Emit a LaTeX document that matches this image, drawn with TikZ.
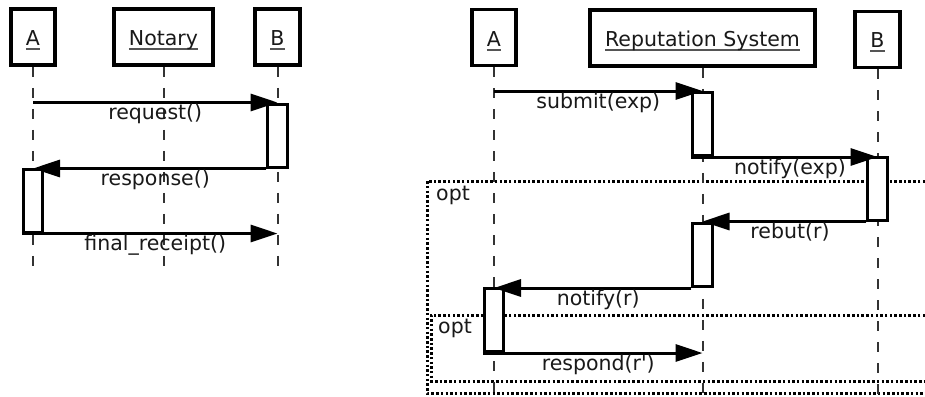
\documentclass[tikz,border=0pt]{standalone}
\usepackage{fontspec}
\setmainfont{DejaVu Sans}
\usetikzlibrary{arrows.meta,calc}
\definecolor{ulgray}{HTML}{555555}
\definecolor{lifegray}{HTML}{333333}
\newsavebox\ulsavebox
\newcommand\ultext[1]{\sbox\ulsavebox{#1}\rlap{\color{ulgray}\rule[-4.5pt]{\wd\ulsavebox}{2pt}}\usebox\ulsavebox}
\begin{document}
\begin{tikzpicture}[x=1pt,y=-1pt,
  every node/.style={font=\fontsize{20.5}{24}\selectfont, text=black!90},
  actor/.style={draw=black, line width=3.8pt, fill=white, inner sep=0pt, text height=17pt, text depth=0pt, minimum height=56pt},
  actbox/.style={draw=black, line width=3pt, fill=white, minimum width=19.5pt, minimum height=63pt, inner sep=0pt},
  lifeline/.style={draw=lifegray, line width=2pt, dash pattern=on 10pt off 11pt},
  msg/.style={draw=black, line width=3pt, -{Triangle[length=27pt,width=17pt]}},
  msglabel/.style={anchor=base, inner sep=0pt, yshift=-17pt},
  optframe/.style={draw=black, line width=3pt, dash pattern=on 2.5pt off 2.2pt},
  optlabel/.style={anchor=base west, inner sep=0pt}
]
\useasboundingbox[fill=white] (0,0) rectangle (925,396);
% actors
\node[actor, minimum width=44pt] (A1) at (33,37) {\ultext{A}};
\node[actor, minimum width=99pt] (N1) at (163.5,37) {\ultext{Notary}};
\node[actor, minimum width=45pt] (B1) at (277.5,37) {\ultext{B}};
\node[actor, minimum width=44pt] (A2) at (494,37.5) {\ultext{A}};
\node[actor, minimum width=225pt] (R2) at (702.5,38) {\ultext{Reputation System}};
\node[actor, minimum width=45pt] (B2) at (877.5,39.5) {\ultext{B}};
% end coordinates
\coordinate (endL) at (0,273);
\coordinate (endR) at (0,396);
% opt frames
\coordinate (o1a) at (925,181);
\coordinate (o1b) at (427,181);
\coordinate (o1c) at (427,393);
\coordinate (o1d) at (925,393);
\coordinate (o2a) at (925,315);
\coordinate (o2b) at (431,315);
\coordinate (o2c) at (431,381);
\coordinate (o2d) at (925,381);
\draw[optframe] (o1a) -- (o1b) -- (o1c) -- (o1d);
\draw[optframe] (o2a) -- (o2b) -- (o2c) -- (o2d);
\node[optlabel] (opt1) at (436,200) {opt};
\node[optlabel] (opt2) at (438,333) {opt};
% lifelines
\draw[lifeline] (A1.south) -- (A1.south |- endL);
\draw[lifeline] (N1.south) -- (N1.south |- endL);
\draw[lifeline] (B1.south) -- (B1.south |- endL);
\draw[lifeline] (A2.south) -- (A2.south |- endR);
\draw[lifeline] (R2.south) -- (R2.south |- endR);
\draw[lifeline] (B2.south) -- (B2.south |- endR);
% activations
\node[actbox] (aB1) at (B1.south |- 0,135.5) {};
\node[actbox] (aA1) at (A1.south |- 0,200.5) {};
\node[actbox] (aR1) at (R2.south |- 0,124) {};
\node[actbox] (aB2) at (B2.south |- 0,188.5) {};
\node[actbox] (aR2) at (R2.south |- 0,255) {};
\node[actbox] (aA2) at (A2.south |- 0,320) {};
% label anchors
\path (A1.south) -- (B1.south) coordinate[pos=.5] (mL);
\path (A2.south) -- (R2.south) coordinate[pos=.5] (mAR);
\path (R2.south) -- (B2.south) coordinate[pos=.5] (mRB);
% messages left
\draw[msg] (A1.south |- aB1.north) -- (aB1.north);
\node[msglabel] (l1) at (mL |- aB1.north) {request()};
\draw[msg] (aB1.south west) -- (aA1.north |- aB1.south west);
\node[msglabel] (l2) at (mL |- aB1.south) {response()};
\draw[msg] (aA1.south west) -- (B1.south |- aA1.south);
\node[msglabel] (l3) at (mL |- aA1.south) {final\_receipt()};
% messages right
\draw[msg] (A2.south |- aR1.north) -- (aR1.north);
\node[msglabel] (r1) at (mAR |- aR1.north) {submit(exp)};
\draw[msg] (aR1.south west) -- (aB2.north |- aR1.south);
\node[msglabel] (r2) at (mRB |- aR1.south) {notify(exp)};
\draw[msg] (aB2.south west) -- (aR2.north |- aB2.south);
\node[msglabel] (r3) at (mRB |- aB2.south) {rebut(r)};
\draw[msg] (aR2.south west) -- (aA2.north |- aR2.south);
\node[msglabel] (r4) at (mAR |- aR2.south) {notify(r)};
\draw[msg] (aA2.south west) -- (R2.south |- aA2.south);
\node[msglabel] (r5) at (mAR |- aA2.south) {respond(r\textquotesingle)};
\end{tikzpicture}
\end{document}
